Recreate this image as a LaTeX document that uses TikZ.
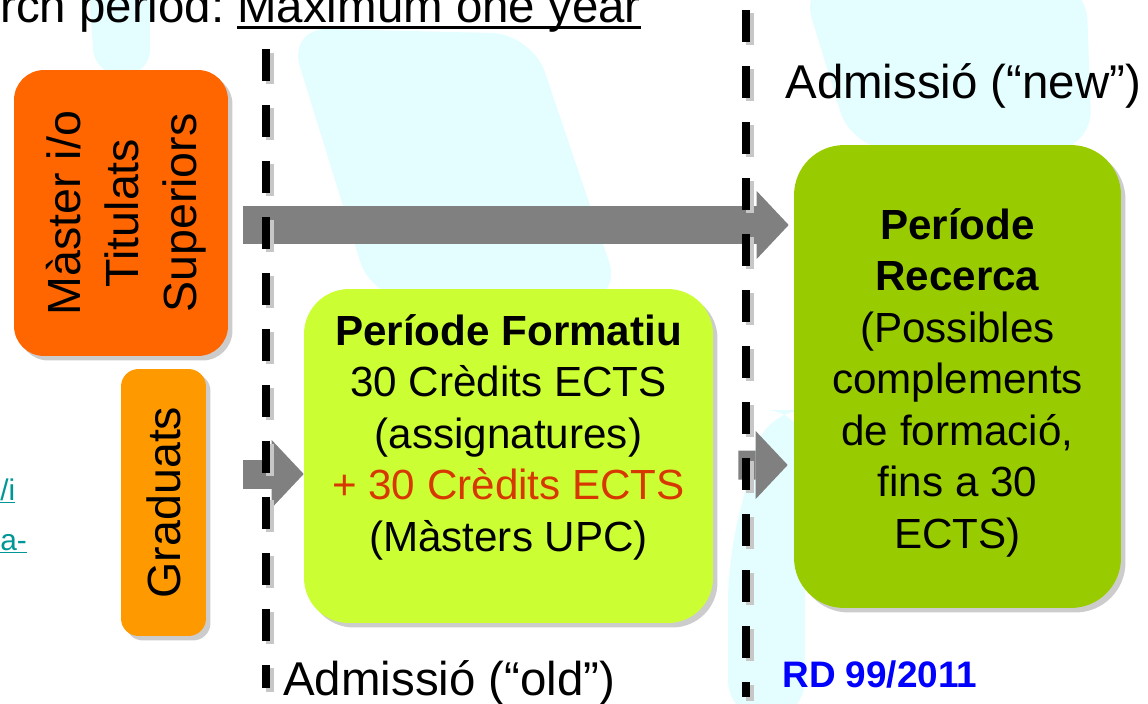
\documentclass[tikz,border=0pt]{standalone}
\usepackage{fontspec}
\setmainfont{Liberation Sans}
\usepackage{graphicx}
\usetikzlibrary{arrows.meta,shadows}
\definecolor{taronja}{RGB}{255,102,0}
\definecolor{ambre}{RGB}{255,153,0}
\definecolor{llima}{RGB}{204,255,51}
\definecolor{oliva}{RGB}{153,204,0}
\definecolor{vermell}{RGB}{214,56,0}
\definecolor{enllac}{RGB}{0,150,150}
\definecolor{aigua}{RGB}{228,253,255}
\tikzset{
  caixa/.style = {align=center, inner sep=0pt, text centered,
    font=\fontsize{24}{29.3}\selectfont,
    drop shadow={shadow xshift=0.09cm, shadow yshift=-0.09cm, opacity=0.4}},
  caixa_txt/.style = {align=center, inner sep=0pt,
    font=\fontsize{24}{29.3}\selectfont},
  caixa_ms/.style = {caixa, fill=taronja, rounded corners=0.6cm,
    minimum width=4.28cm, minimum height=5.72cm},% master i titulats
  caixa_gr/.style = {caixa, fill=ambre, rounded corners=0.35cm,
    minimum width=1.7cm, minimum height=5.34cm},% graduats
  caixa_fm/.style = {caixa, fill=llima, rounded corners=0.9cm,
    minimum width=8.18cm, minimum height=6.68cm},% periode formatiu
  caixa_rc/.style = {caixa, fill=oliva, rounded corners=1cm,
    minimum width=6.54cm, minimum height=9.26cm},% periode recerca
  fletxa_g/.style = {draw=gray, line width=0.76cm,
    -{Triangle[length=0.64cm, width=1.36cm, line width=0pt]}},
  fletxa_p/.style = {fletxa_g, line width=0.58cm},
  tall/.style = {line width=0.16cm, dash pattern=on 0.64cm off 0.48cm},
  tall_om/.style = {tall, draw=black!22, transform canvas={shift={(0.07cm,-0.07cm)}}},% ombra
  rotul/.style = {inner sep=0pt, anchor=base west,
    font=\fontsize{27}{32}\selectfont}
}

\begin{document}
\begin{tikzpicture}[x=0.02cm, y=-0.02cm]
  \useasboundingbox (0,0) rectangle (1148,703);
  % marca d'aigua
  \fill[aigua, rounded corners=0.8cm] (288,28) -- (532,34) -- (622,300) -- (372,300) -- cycle;
  \fill[aigua, rounded corners=0.8cm] (800,-20) -- (1086,-20) -- (1092,150) -- (852,150) -- cycle;
  \fill[aigua, rounded corners=0.8cm] (765,410) -- (805,410) -- (805,720) -- (728,720) -- (728,560) -- cycle;
  \fill[aigua, rounded corners=0.5cm] (88,-20) -- (150,-20) -- (150,75) -- (95,75) -- cycle;

  \node[caixa_ms] (ms) at (121,213) {\kern0.24cm\rotatebox{90}{\fontsize{26.5}{33}\selectfont
    \begin{tabular}{@{}c@{}}Màster i/o\\Titulats\\Superiors\end{tabular}}};
  \node[caixa_gr] (gr) at (163.5,502.5) {\rotatebox{90}{\fontsize{26.5}{33}\selectfont Graduats}};
  \node[caixa_fm, label={[caixa_txt, yshift=0.38cm]center:{\textbf{Període Formatiu}\\30 Crèdits ECTS\\(assignatures)\\\textcolor{vermell}{+ 30 Crèdits ECTS}\\(Màsters UPC)}}]
    (fm) at (508.5,456) {};
  \node[caixa_rc, label={[caixa_txt, yshift=-0.12cm]center:{\textbf{Període}\\\textbf{Recerca}\\(Possibles\\complements\\de formació,\\fins a 30\\ECTS)}}]
    (rc) at (957.5,376.5) {};

  \draw[fletxa_g] ([shift={(15,12)}]ms.east) -- ([shift={(-5,-151.5)}]rc.west);
  \draw[fletxa_p] ([shift={(37,-28.5)}]gr.east) -- ([shift={(0,18)}]fm.west);
  \draw[fletxa_p] ([shift={(25,9)}]fm.east) -- ([shift={(-6,88.5)}]rc.west);

  \coordinate (t1a) at (266,49);
  \coordinate (t1b) at (266,688);
  \coordinate (t2a) at (746,10);
  \coordinate (t2b) at (746,697);
  \draw[tall_om] (t1a) -- (t1b);
  \draw[tall_om] (t2a) -- (t2b);
  \draw[tall] (t1a) -- (t1b);
  \draw[tall] (t2a) -- (t2b);

  \node[rotul] (rp) at (0,22) {rch period:};
  \node[rotul] (mx) at (237,22) {Maximum one year};
  \draw[line width=0.06cm] ([yshift=-0.12cm]mx.base west) -- ([yshift=-0.12cm]mx.base east);
  \node[rotul] (an) at (785,98) {Admissió (“new”)};
  \node[rotul] (ao) at (283,695) {Admissió (“old”)};
  \node[rotul, text=blue, font=\bfseries\fontsize{21}{25}\selectfont] (rd) at (782,687) {RD 99/2011};
  \node[rotul, text=enllac, font=\fontsize{17}{20}\selectfont] (l1) at (0,500) {\underline{/i}};
  \node[rotul, text=enllac, font=\fontsize{17}{20}\selectfont] (l2) at (0,550) {\underline{a-}};
\end{tikzpicture}
\end{document}
